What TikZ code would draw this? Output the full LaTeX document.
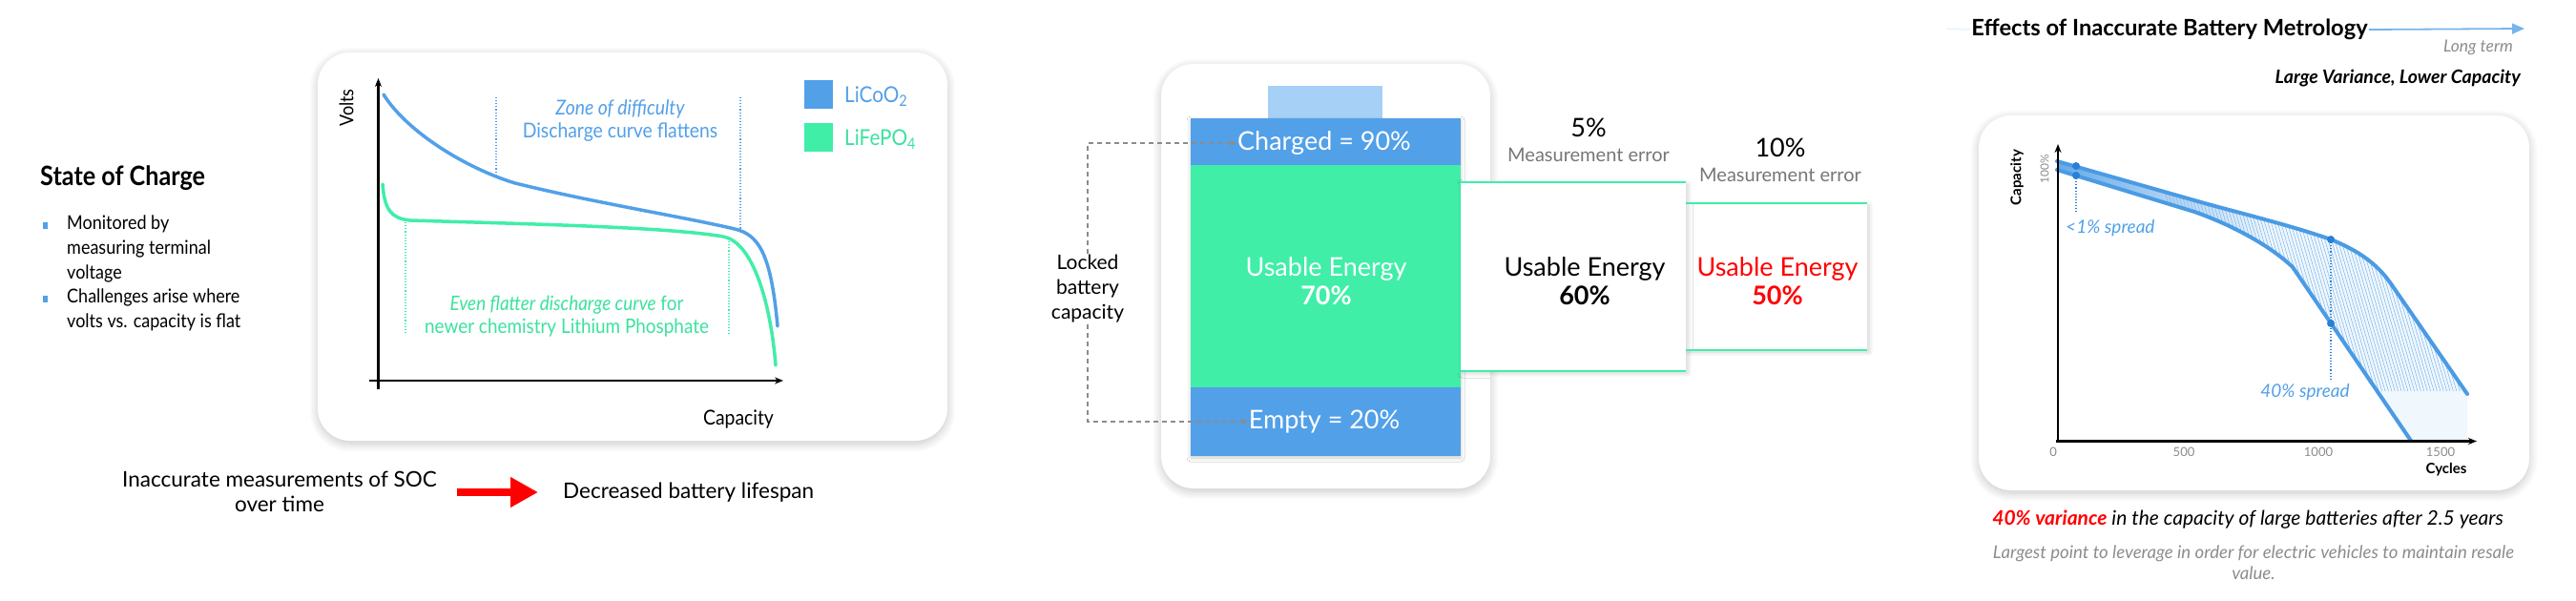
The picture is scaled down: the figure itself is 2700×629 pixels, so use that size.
\documentclass[tikz,border=0pt]{standalone}
\usepackage{fontspec}
\setmainfont{Lato}
\newfontfamily\cond[FakeStretch=0.9]{Lato}
\usetikzlibrary{arrows.meta,shadows.blur}
\definecolor{cblue}{RGB}{82,160,232}
\definecolor{cblueb}{RGB}{74,155,228}
\definecolor{cdot}{RGB}{40,128,215}
\definecolor{cgreen}{RGB}{64,238,168}
\definecolor{cgreent}{RGB}{58,226,158}
\definecolor{clight}{RGB}{166,208,246}
\definecolor{cred}{RGB}{255,0,0}
\definecolor{cgray}{RGB}{118,118,118}
\definecolor{cgrayl}{RGB}{140,140,140}
\newcommand\fs[2]{\fontsize{#1}{#2}\selectfont}
\begin{document}
\begin{tikzpicture}[x=1pt,y=-1pt,
  card/.style={fill=white, rounded corners=34pt, blur shadow={shadow xshift=0pt, shadow yshift=-3pt, shadow blur radius=9pt, shadow opacity=22, shadow blur steps=12}},
  boxsh/.style={fill=white, blur shadow={shadow xshift=2pt, shadow yshift=-2pt, shadow blur radius=5pt, shadow opacity=18, shadow blur steps=8}},
  ctxt/.style={inner sep=1pt, font=\cond\fs{20}{26}},
  wtxt/.style={inner sep=1pt, text=white, font=\fs{27}{30}, align=center},
  axis/.style={line width=2.4pt, -{Stealth[length=9pt,width=7pt]}},
  bcurve/.style={cblue, line width=3.5pt, line cap=round},
  gcurve/.style={cgreen, line width=3.5pt, line cap=round},
  bdot/.style={cblue, line width=1.1pt, dotted},
  gdot/.style={cgreen, line width=1.1pt, dotted},
  lock/.style={cgrayl, line width=1.2pt, dash pattern=on 5pt off 4pt, -{Stealth[length=7pt,width=6pt]}},
  redarrow/.style={cred, line width=8pt, -{Triangle[length=29pt,width=30pt]}},
  gline/.style={cgreen, line width=2pt},
  rcurve/.style={cblueb, line width=4pt, line cap=round, line join=round},
  hatch/.style={cblueb!70, line width=0.55pt},
]
\useasboundingbox (0,0) rectangle (2700,629);

% ================= LEFT PANEL =================
\node[anchor=west, inner sep=0pt, font=\cond\bfseries\fs{28}{34}] (soc) at (42,187) {State of Charge};
\fill[cblue] (45,233) rectangle (50,240);
\fill[cblue] (45,310) rectangle (50,317);
\node[ctxt, anchor=north west, align=left] (b1) at (69,225) {Monitored by\\measuring terminal\\voltage};
\node[ctxt, anchor=north west, align=left] (b2) at (69,302) {Challenges arise where\\volts vs. capacity is flat};

\path[card] (333,55) rectangle (993,462);

% dotted guides
\draw[bdot] (520,102) -- (520,185);
\draw[bdot] (776,102) -- (776,241);
\draw[gdot] (425,230) -- (425,350);
\draw[gdot] (764,250) -- (764,350);

% axes
\draw[axis] (396.5,408) -- (396.5,82);
\draw[axis] (387,399) -- (821,399);
\node[rotate=90, inner sep=1pt, font=\cond\fs{20}{24}] (volts) at (363,113) {Volts};
\node[inner sep=1pt, font=\cond\fs{21.5}{25}] (capl) at (774,439) {Capacity};

% curves
\draw[bcurve] (402,99) .. controls (427,139) and (490,177) .. (540,192)
   .. controls (620,212) and (720,228) .. (770,240)
   .. controls (795,246) and (808,265) .. (815,342);
\draw[gcurve] (401,193) .. controls (403,220) and (410,229) .. (430,231)
   .. controls (560,235) and (700,238) .. (758,248)
   .. controls (790,254) and (808,320) .. (813,383);

\node[inner sep=1pt, text=cblue, font=\cond\fs{21.5}{24}, align=center] (zone) at (650,127) {\itshape Zone of difficulty\\Discharge curve flattens};
\node[inner sep=1pt, text=cgreent, font=\cond\fs{21}{24}, align=center] (flat) at (594,332) {\itshape Even flatter discharge curve\upshape{} for\\newer chemistry Lithium Phosphate};

% legend
\fill[cblue] (843,84) rectangle (873,114);
\fill[cgreen] (843,129) rectangle (873,159);
\node[anchor=west, inner sep=0pt, text=cblue, font=\cond\fs{23}{26}] (lco) at (885,101) {LiCoO\textsubscript{2}};
\node[anchor=west, inner sep=0pt, text=cgreent, font=\cond\fs{23}{26}] (lfp) at (885,146) {LiFePO\textsubscript{4}};

% bottom statement
\node[inner sep=1pt, align=center, font=\fs{22.5}{26}] (inacc) at (293,515) {Inaccurate measurements of SOC\\over time};
\node[inner sep=1pt, anchor=west, font=\fs{22.5}{26}] (decr) at (589,516) {Decreased battery lifespan};
\draw[redarrow, shorten <=20pt, shorten >=25pt] (inacc.east |- decr.west) -- (decr.west);

% ================= MIDDLE PANEL =================
\path[card] (1217,67) rectangle (1562,512);
\fill[clight] (1329,90) rectangle (1449,124);
\fill[cblue, blur shadow={shadow xshift=0pt, shadow yshift=-2pt, shadow blur radius=4pt, shadow opacity=20}] (1248,124) rectangle (1531,478);
\fill[cgreen] (1248,173) rectangle (1531,406);
\node[wtxt] (chgt) at (1388,150) {Charged = 90\%};
\node[wtxt] (use70) at (1390,295) {Usable Energy\\\bfseries 70\%};
\node[wtxt] (empt) at (1388,442) {Empty = 20\%};

\node[inner sep=1pt, align=center, font=\fs{21}{26}] (locked) at (1140,303) {Locked\\battery\\capacity};
\draw[lock] (locked.north) |- (chgt.west);
\draw[lock] (locked.south) |- (empt.west);

% error boxes
\path[boxsh] (1767,213) rectangle (1957,367);
\path[boxsh] (1531,191) rectangle (1767,389);
\draw[gline] (1531,191) -- (1767,191);
\draw[gline] (1531,389) -- (1767,389);
\draw[gline] (1767,213) -- (1957,213);
\draw[gline] (1767,367) -- (1957,367);

\node[inner sep=1pt, font=\fs{27}{30}] (e5) at (1665,134) {5\%};
\node[inner sep=1pt, text=cgray, font=\fs{20}{23}] (m5) at (1665,162) {Measurement error};
\node[inner sep=1pt, font=\fs{27}{30}] (e10) at (1866,155) {10\%};
\node[inner sep=1pt, text=cgray, font=\fs{20}{23}] (m10) at (1866,183) {Measurement error};
\node[inner sep=1pt, align=center, font=\fs{27}{30}] (use60) at (1661,295) {Usable Energy\\\bfseries 60\%};
\node[inner sep=1pt, align=center, text=cred, font=\fs{27}{30}] (use50) at (1863,295) {Usable Energy\\\bfseries 50\%};

% ================= RIGHT PANEL =================
\coordinate (hstart) at (2040,30);
\coordinate (htip) at (2646,30);
\node[inner sep=1pt, font=\bfseries\fs{23.7}{27}] (title) at (2274,31) {Effects of Inaccurate Battery Metrology};
\draw[cblueb!12, line width=1.5pt] (hstart) -- (title.west);
\draw[cblueb!75, line width=1.8pt, -{Triangle[length=13pt,width=11pt]}] (title.east) -- (htip);
\node[anchor=east, inner sep=0pt, text=cgrayl, font=\itshape\fs{17.5}{21}] (lterm) at (2634,50) {Long term};
\node[anchor=east, inner sep=0pt, font=\bfseries\itshape\fs{19.5}{23}] (lvar) at (2642,82) {Large Variance, Lower Capacity};

\path[card] (2074,121) rectangle (2651,514);

% band
\begin{scope}
\clip (2156,169) -- (2307,212) .. controls (2350,224) and (2400,236) .. (2443,251)
      .. controls (2470,262) and (2490,275) .. (2505,296) -- (2586,413) -- (2586,462) -- (2527,462)
      -- (2403,280) .. controls (2380,258) and (2340,236) .. (2300,222) -- (2156,178) -- cycle;
\fill[cblueb!8] (2150,160) rectangle (2600,470);
\shade[left color=cblueb!85, right color=cblueb!8] (2156,160) rectangle (2380,300);
\foreach \i in {0,...,110} {\draw[hatch] (2260+\i*3.4,170) -- ++(70,240);}
\end{scope}
\draw[rcurve] (2156,169) -- (2307,212) .. controls (2350,224) and (2400,236) .. (2443,251)
      .. controls (2470,262) and (2490,275) .. (2505,296) -- (2586,413);
\draw[rcurve] (2156,178) -- (2300,222) .. controls (2340,236) and (2380,258) .. (2403,280) -- (2527,462);

% axes
\draw[axis] (2157,464) -- (2157,151);
\draw[axis] (2155,462.5) -- (2596,462.5);
\node[rotate=90, inner sep=1pt, font=\bfseries\fs{15}{18}] (rcap) at (2114,186) {Capacity};
\node[rotate=90, inner sep=1pt, text=cgrayl, font=\fs{12}{14}] (r100) at (2143,177) {100\%};
\node[inner sep=1pt, text=cgrayl, font=\fs{13}{15}] (t0) at (2152,474) {0};
\node[inner sep=1pt, text=cgrayl, font=\fs{13}{15}] (t500) at (2289,474) {500};
\node[inner sep=1pt, text=cgrayl, font=\fs{13}{15}] (t1000) at (2430,474) {1000};
\node[inner sep=1pt, text=cgrayl, font=\fs{13}{15}] (t1500) at (2558,474) {1500};
\node[inner sep=1pt, font=\bfseries\fs{15}{18}] (cyc) at (2564,492) {Cycles};

% markers
\draw[bdot, cdot] (2176,184) -- (2176,224);
\draw[bdot, cdot] (2443,251) -- (2443,397);
\fill[cdot] (2176,174) circle (4pt);
\fill[cdot] (2176,184) circle (4pt);
\fill[cdot] (2443,251) circle (4pt);
\fill[cdot] (2443,339) circle (4pt);
\node[anchor=west, inner sep=0pt, text=cblue, font=\itshape\fs{19}{22}] (s1) at (2165,239) {<1\% spread};
\node[inner sep=0pt, text=cblue, font=\itshape\fs{19}{22}] (s40) at (2416,411) {40\% spread};

% conclusions
\node[inner sep=1pt, font=\itshape\fs{21}{24}] (var) at (2356,545) {\textcolor{cred}{\bfseries 40\% variance} in the capacity of large batteries after 2.5 years};
\node[inner sep=1pt, align=center, text=cgrayl, font=\itshape\fs{18.6}{22}] (lev) at (2362,590) {Largest point to leverage in order for electric vehicles to maintain resale\\value.};
\end{tikzpicture}
\end{document}
